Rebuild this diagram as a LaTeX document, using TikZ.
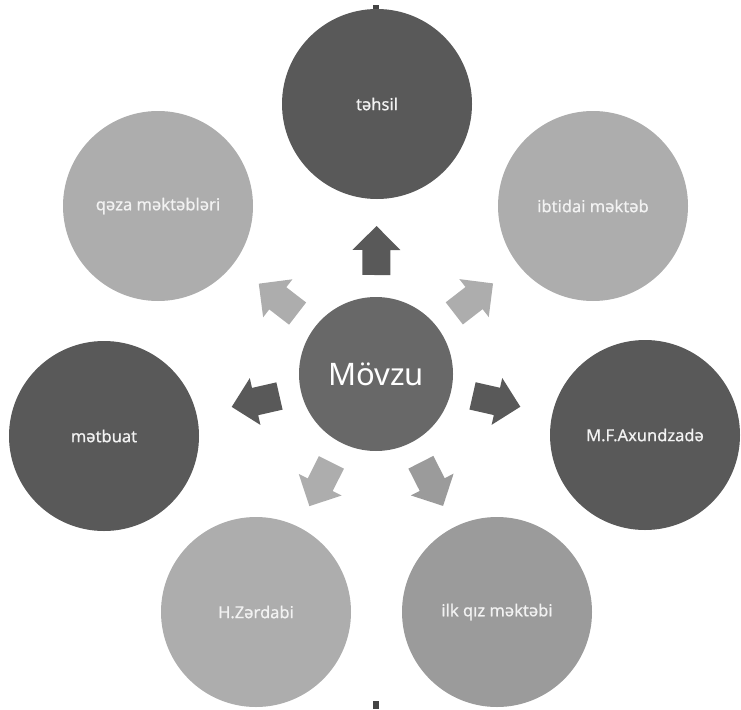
\documentclass[tikz,border=0pt]{standalone}
\usepackage{fontspec}
\setmainfont{Noto Sans}
\newfontfamily\lblfont[FakeBold=0.6]{Noto Sans}
\usetikzlibrary{calc}
\definecolor{dk}{HTML}{595959}
\definecolor{mid}{HTML}{686868}
\definecolor{lt}{HTML}{ADADAD}
\definecolor{md}{HTML}{9B9B9B}
\definecolor{tk}{HTML}{444444}
\tikzset{
  outer/.style={circle, minimum size=190pt, inner sep=0pt, text=white!95!black,
    font=\lblfont\fontsize{16.5}{20}\selectfont},
  hub/.style={circle, minimum size=154pt, inner sep=0pt, fill=mid, text=white,
    font=\fontsize{31}{36}\selectfont},
  tick/.style={fill=tk}
}
\newcommand\mzarrow[3]{%
  \path ($(#1.center)!99pt!(#2.center)$) coordinate (ab)
        ($(#1.center)!124pt!(#2.center)$) coordinate (an)
        ($(#1.center)!148pt!(#2.center)$) coordinate (at);
  \fill[#3] ($(ab)!14pt!90:(at)$) -- ($(an)!14pt!90:(at)$) -- ($(an)!24pt!90:(at)$)
    -- (at) -- ($(an)!24pt!-90:(at)$) -- ($(an)!14pt!-90:(at)$)
    -- ($(ab)!14pt!-90:(at)$) -- cycle;}
\begin{document}
\begin{tikzpicture}[x=1pt,y=-1pt]
\useasboundingbox (0,0) rectangle (741,709);
\fill[tick] (373,5) rectangle (379,14);
\fill[tick] (373,701) rectangle (379,709);
\node[outer, fill=dk] (t) at (377,104) {təhsil};
\node[outer, fill=lt] (i) at (593,206) {ibtidai məktəb};
\node[outer, fill=dk] (a) at (645,435) {M.F.Axundzadə};
\node[outer, fill=md] (k) at (497,612) {ilk qız məktəbi};
\node[outer, fill=lt] (z) at (256,612) {H.Zərdabi};
\node[outer, fill=dk] (b) at (104,436) {mətbuat};
\node[outer, fill=lt] (q) at (158,206) {qəza məktəbləri};
\node[hub] (m) at (376,374) {Mövzu};
\mzarrow{m}{t}{dk}
\mzarrow{m}{i}{lt}
\mzarrow{m}{a}{dk}
\mzarrow{m}{k}{md}
\mzarrow{m}{z}{lt}
\mzarrow{m}{b}{dk}
\mzarrow{m}{q}{lt}
\end{tikzpicture}
\end{document}
